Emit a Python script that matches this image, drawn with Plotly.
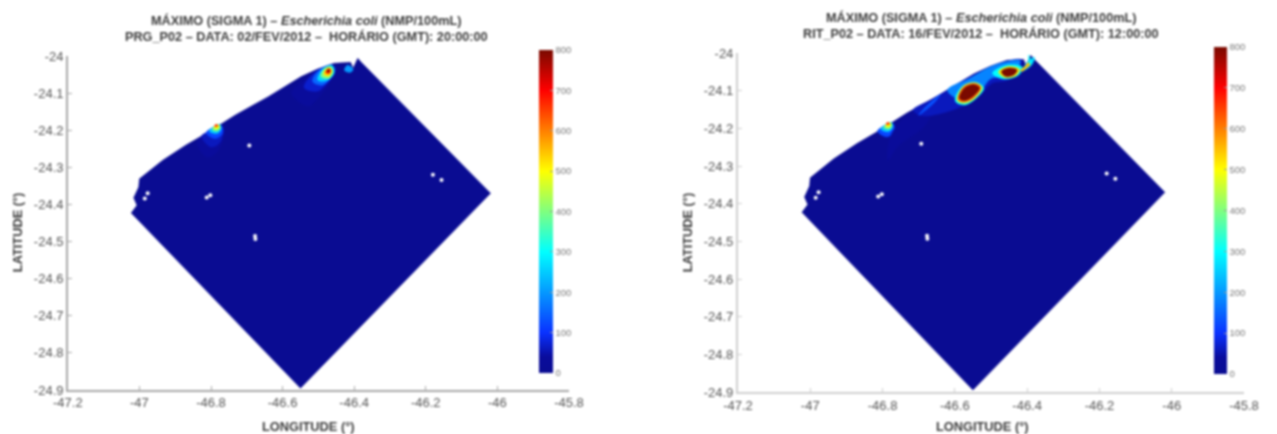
import plotly.graph_objects as go
from plotly.colors import sample_colorscale

# ---- data (degrees, NMP/100mL) ----
x_ticks = [-47.2, -47, -46.8, -46.6, -46.4, -46.2, -46, -45.8]
x_tick_labels = ["-47.2", "-47", "-46.8", "-46.6", "-46.4", "-46.2", "-46", "-45.8"]
y_ticks = [-24, -24.1, -24.2, -24.3, -24.4, -24.5, -24.6, -24.7, -24.8, -24.9]
y_tick_labels = ["-24", "-24.1", "-24.2", "-24.3", "-24.4", "-24.5", "-24.6", "-24.7", "-24.8", "-24.9"]
cbar_ticks = [0, 100, 200, 300, 400, 500, 600, 700, 800]

domain_lon = [-46.381, -46.019, -46.55, -47.023, -47.007, -47.016, -47.002, -47.0, -46.935, -46.871,
              -46.807, -46.733, -46.640, -46.594, -46.548, -46.502, -46.456, -46.41, -46.403, -46.39, -46.381]
domain_lat = [-24.016, -24.37, -24.895, -24.423, -24.4025, -24.382, -24.353, -24.331, -24.281, -24.2405,
              -24.2045, -24.1595, -24.1095, -24.0825, -24.0555, -24.035, -24.0195, -24.017, -24.033, -24.006, -24.016]

island_lon = [-46.693, -46.18, -46.156, -46.977, -46.985, -46.802, -46.812, -46.677, -46.676]
island_lat = [-24.241, -24.32, -24.334, -24.37, -24.384, -24.375, -24.381, -24.485, -24.493]

# plume isolines: (level, longitudes, latitudes)
west_plume = [
    (35, [-46.839, -46.811, -46.779, -46.765, -46.802], [-24.2315, -24.272, -24.254, -24.195, -24.205]),
    (60, [-46.826, -46.800, -46.774, -46.768, -46.805], [-24.216, -24.245, -24.232, -24.190, -24.203]),
    (120, [-46.814, -46.788, -46.768, -46.772], [-24.207, -24.2225, -24.209, -24.1865]),
    (250, [-46.805, -46.784, -46.772, -46.776], [-24.202, -24.209, -24.198, -24.184]),
    (400, [-46.797, -46.782, -46.774, -46.779], [-24.198, -24.202, -24.193, -24.185]),
    (500, [-46.792, -46.781, -46.777, -46.784], [-24.194, -24.1955, -24.188, -24.185]),
    (650, [-46.790, -46.781, -46.783, -46.788], [-24.189, -24.189, -24.185, -24.185]),
]
left_east_plume = [
    (35, [-46.575, -46.530, -46.505, -46.452, -46.500, -46.548], [-24.100, -24.135, -24.118, -24.037, -24.042, -24.070]),
    (70, [-46.540, -46.505, -46.482, -46.452, -46.502], [-24.085, -24.095, -24.080, -24.032, -24.038]),
    (150, [-46.516, -46.488, -46.458, -46.462, -46.500], [-24.069, -24.078, -24.0465, -24.024, -24.040]),
    (200, [-46.427, -46.410, -46.403, -46.419], [-24.039, -24.044, -24.035, -24.025]),
    (260, [-46.502, -46.479, -46.456, -46.461, -46.488], [-24.0645, -24.067, -24.0465, -24.026, -24.035]),
    (400, [-46.493, -46.470, -46.459, -46.465, -46.484], [-24.0555, -24.06, -24.042, -24.0285, -24.035]),
    (520, [-46.485, -46.470, -46.462, -46.468, -46.480], [-24.050, -24.054, -24.040, -24.032, -24.037]),
    (650, [-46.480, -46.470, -46.465, -46.470, -46.477], [-24.046, -24.048, -24.039, -24.034, -24.038]),
    (770, [-46.476, -46.470, -46.468, -46.473], [-24.043, -24.044, -24.038, -24.036]),
]
right_west_plume = west_plume[2:]
right_coast_plume = [
    (30, [-46.785, -46.775, -46.72, -46.66, -46.68, -46.76], [-24.285, -24.215, -24.157, -24.135, -24.19, -24.25]),
    (60, [-46.715, -46.661, -46.597, -46.534, -46.470, -46.416, -46.416, -46.452, -46.497, -46.534, -46.588, -46.661, -46.697],
         [-24.151, -24.122, -24.084, -24.051, -24.026, -24.018, -24.031, -24.071, -24.080, -24.115, -24.145, -24.165, -24.165]),
    (130, [-46.70, -46.66, -46.64, -46.68], [-24.165, -24.135, -24.110, -24.142]),
    (180, [-46.62, -46.56, -46.49, -46.42, -46.42, -46.46, -46.50, -46.55, -46.60],
          [-24.098, -24.068, -24.032, -24.020, -24.028, -24.062, -24.068, -24.125, -24.118]),
    (300, [-46.598, -46.573, -46.541, -46.520, -46.541, -46.577, -46.596], [-24.129, -24.138, -24.120, -24.093, -24.078, -24.087, -24.111]),
    (450, [-46.594, -46.574, -46.544, -46.524, -46.543, -46.577], [-24.126, -24.134, -24.120, -24.092, -24.079, -24.088]),
    (620, [-46.591, -46.574, -46.547, -46.528, -46.544, -46.576], [-24.124, -24.130, -24.118, -24.091, -24.081, -24.090]),
    (800, [-46.587, -46.573, -46.550, -46.532, -46.546, -46.573], [-24.120, -24.126, -24.115, -24.093, -24.084, -24.093]),
    (300, [-46.496, -46.464, -46.423, -46.414, -46.455], [-24.0535, -24.069, -24.058, -24.037, -24.032]),
    (520, [-46.479, -46.462, -46.430, -46.422, -46.452], [-24.050, -24.065, -24.059, -24.043, -24.036]),
    (800, [-46.471, -46.460, -46.437, -46.428, -46.451], [-24.049, -24.062, -24.058, -24.045, -24.040]),
    (250, [-46.420, -46.402, -46.386, -46.380, -46.396, -46.408], [-24.050, -24.043, -24.030, -24.012, -24.020, -24.036]),
    (550, [-46.416, -46.402, -46.391, -46.396, -46.408, -46.418], [-24.049, -24.040, -24.029, -24.025, -24.038, -24.045]),
    (300, [-46.396, -46.392, -46.382, -46.388], [-24.005, -24.030, -24.015, -24.025]),
]
left_peak_lon = [-46.473, -46.785]
left_peak_lat = [-24.040, -24.187]
left_peak_val = [800, 680]
right_peak_lon = [-46.559, -46.449, -46.785]
right_peak_lat = [-24.105, -24.052, -24.187]
right_peak_val = [800, 800, 680]

# ---- styling ----
W, H = 1277, 434
ML, MR, MT, MB = 40, 20, 20, 20
jet = [[0, "#0a0c92"], [0.05, "#0a0c9c"], [0.125, "#0a32ff"], [0.375, "#00ffff"],
       [0.625, "#ffff00"], [0.875, "#ff0000"], [1, "#7a0a00"]]
FONT = "Liberation Sans"
TXT = "#555555"
HEAD = "#3c3c3c"


def fx(px):
    return (px - ML) / (W - ML - MR)


def fy(py):
    return 1 - (py - MT) / (H - MT - MB)


def colour(level):
    return sample_colorscale(jet, [level / 800])[0]


fig = go.Figure()


def panel(n, plumes, peak_lon, peak_lat, peak_val, x_px, y_px, cb_px, cb_y, title2, tx, ty, ly, ax_col, ax_w):
    xa, ya = f"x{n}", f"y{n}"
    fig.add_trace(go.Scatter(x=domain_lon, y=domain_lat, mode="lines", fill="toself", xaxis=xa, yaxis=ya,
                             fillcolor=colour(0), line=dict(color=colour(0), width=0.5), hoverinfo="skip", showlegend=False))
    for level, lon, lat in plumes:
        fig.add_trace(go.Scatter(x=lon + lon[:1], y=lat + lat[:1], mode="lines", fill="toself", xaxis=xa, yaxis=ya,
                                 fillcolor=colour(level), line=dict(color=colour(level), width=0.5, shape="spline"),
                                 hoverinfo="skip", showlegend=False))
    fig.add_trace(go.Scatter(x=island_lon, y=island_lat, mode="markers", xaxis=xa, yaxis=ya,
                             marker=dict(color="white", size=4), hoverinfo="skip", showlegend=False))
    fig.add_trace(go.Scatter(
        x=peak_lon, y=peak_lat, mode="markers", xaxis=xa, yaxis=ya, showlegend=False,
        marker=dict(color=peak_val, size=2, cmin=0, cmax=800, colorscale=jet,
                    colorbar=dict(x=fx(cb_px[0]), xanchor="left", y=fy(cb_y[1]), yanchor="bottom",
                                  len=(cb_y[1] - cb_y[0]) / (H - MT - MB), lenmode="fraction",
                                  thickness=cb_px[1] - cb_px[0], thicknessmode="pixels", xpad=0, ypad=0,
                                  outlinewidth=0, ticks="inside", ticklen=3, tickcolor="#999999",
                                  tickvals=cbar_ticks, ticktext=[str(v) for v in cbar_ticks],
                                  tickfont=dict(family=FONT, size=9.5, color="#777777")))))
    ax_common = dict(showgrid=False, zeroline=False, showline=True, linecolor=ax_col, linewidth=ax_w,
                     ticks="inside", ticklen=4, tickcolor=ax_col, tickfont=dict(family=FONT, size=13, color=TXT))
    fig.update_layout({
        f"xaxis{n}": dict(domain=[fx(x_px[0]), fx(x_px[1])], range=[-47.2, -45.8], tickvals=x_ticks,
                          ticktext=x_tick_labels, anchor=ya, **ax_common),
        f"yaxis{n}": dict(domain=[fy(y_px[1]), fy(y_px[0])], range=[-24.9, -24], tickvals=y_ticks,
                          ticktext=y_tick_labels, anchor=xa, **ax_common),
    })
    for text, x, y, ang, size in [
        ("MÁXIMO (SIGMA 1) – <i>Escherichia coli</i> (NMP/100mL)", tx, ty, 0, 12.7),
        (title2, tx, ty + 16, 0, 12.7),
        ("LONGITUDE (°)", tx + 2, 426, 0, 12.8),
        ("LATITUDE (°)", ly, 232, -90, 12.8),
    ]:
        fig.add_annotation(text=f"<b>{text}</b>", x=fx(x), y=fy(y), xref="paper", yref="paper", showarrow=False,
                           xanchor="center", yanchor="middle", textangle=ang,
                           font=dict(family=FONT, size=size, color=HEAD))


panel(1, west_plume + left_east_plume, left_peak_lon, left_peak_lat, left_peak_val,
      (68, 572), (56, 390), (542, 556), (50, 373),
      "PRG_P02 – DATA: 02/FEV/2012 –  HORÁRIO (GMT): 20:00:00", 308, 20, 18, "#a8a8a8", 1.5)
panel(2, right_west_plume + right_coast_plume, right_peak_lon, right_peak_lat, right_peak_val,
      (742, 1251), (53, 392), (1221, 1234), (47, 374),
      "RIT_P02 – DATA: 16/FEV/2012 –  HORÁRIO (GMT): 12:00:00", 986, 17, 692, "#cfcfcf", 2)

fig.update_layout(width=W, height=H, margin=dict(l=ML, r=MR, t=MT, b=MB), autosize=False,
                  paper_bgcolor="white", plot_bgcolor="white", showlegend=False)

fig.write_html("out.html", config={"displayModeBar": False}, post_script=(
    "document.body.style.margin='0';document.body.style.overflow='hidden';"
    "document.querySelector('.plotly-graph-div').style.filter='blur(0.8px)';"))
